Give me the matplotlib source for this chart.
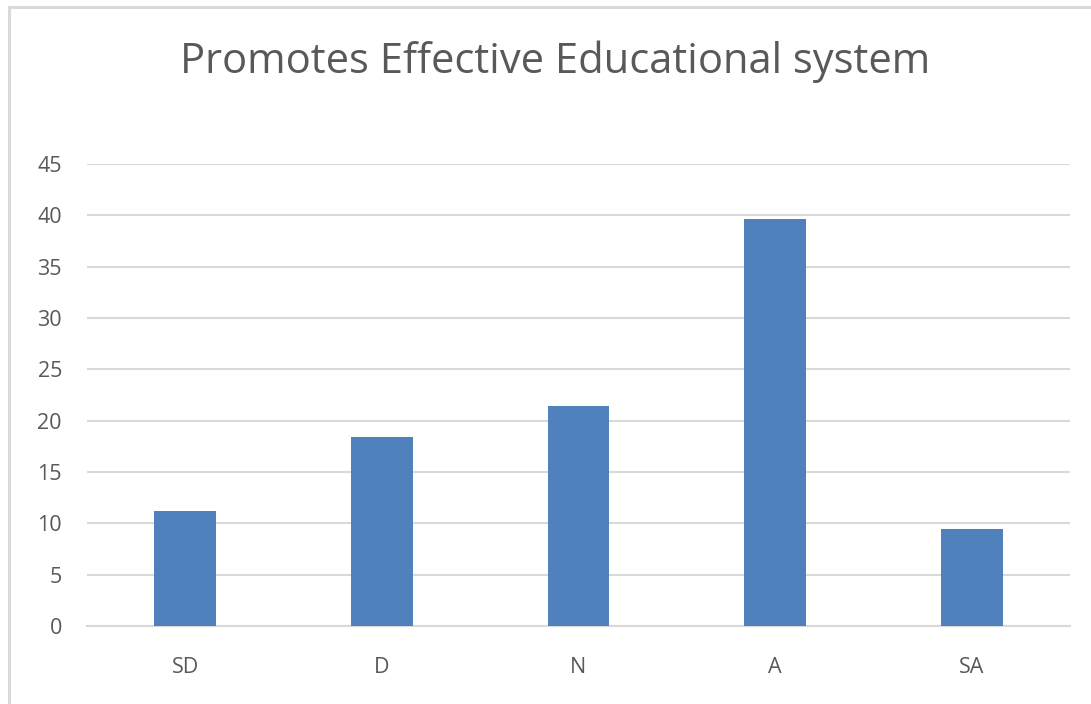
import matplotlib.pyplot as plt
from matplotlib.lines import Line2D

plt.rcParams["font.family"] = ["Open Sans", "DejaVu Sans"]

categories = ["SD", "D", "N", "A", "SA"]
values = [11.2, 18.4, 21.4, 39.6, 9.4]
yticks = [0, 5, 10, 15, 20, 25, 30, 35, 40, 45]
title = "Promotes Effective Educational system"

W, H = 1091, 704
fig = plt.figure(figsize=(W / 100, H / 100), dpi=100)
fig.patch.set_facecolor("white")

# chart area border (top and left edges visible)
fig.add_artist(Line2D([9 / W, 1.0], [1 - 7 / H, 1 - 7 / H], color="#D9D9D9", lw=2.2))
fig.add_artist(Line2D([9 / W, 9 / W], [0.0, 1 - 7 / H], color="#D9D9D9", lw=2.2))

ax = fig.add_axes([87 / W, 1 - 626 / H, (1070 - 87) / W, (626 - 164) / H])
ax.bar(range(len(categories)), values, width=0.315, color="#4F81BD", zorder=3)

ax.set_xlim(-0.5, len(categories) - 0.5)
ax.set_ylim(0, 45)
ax.set_yticks(yticks)
ax.set_xticks(range(len(categories)))
ax.set_xticklabels(categories)
ax.grid(axis="y", color="#D9D9D9", lw=1.5, zorder=0)
for s in ["top", "right", "left"]:
    ax.spines[s].set_visible(False)
ax.spines["bottom"].set_color("#D9D9D9")
ax.spines["bottom"].set_linewidth(1.5)
ax.tick_params(axis="both", length=0, colors="#595959", labelsize=15.5)
ax.tick_params(axis="y", pad=18)
ax.tick_params(axis="x", pad=22)

fig.text(555 / W, 1 - 73 / H, title, ha="center", va="baseline",
         fontsize=30, color="#595959")

fig.savefig("out.png", dpi=100)
